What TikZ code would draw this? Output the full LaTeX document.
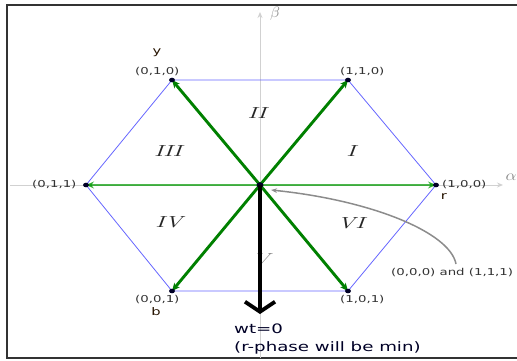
\documentclass[tikz,border=0pt]{standalone}
\usepackage{fontspec}
\usepackage{graphicx}
\usepackage{tikz}
\usetikzlibrary{arrows.meta,positioning,calc}
\newfontfamily\lblfont{DejaVu Sans}[FakeStretch=1.4]
\newfontfamily\numfont{lmroman10-italic}[Extension=.otf,FakeStretch=1.5]

\begin{document}
\begin{tikzpicture}[x=1pt, y=-1pt, >=Stealth]
        % Style definitions
        \tikzset{
            corner/.style={coordinate},
            dot/.style={fill=black!85!blue, draw=none},
            edge/.style={draw=blue!60, line width=0.8pt},
            vec/.style={->, draw=green!50!black, line width=2.9pt, >={Stealth[length=8pt, width=7pt]}},
            vecflat/.style={vec, draw=green!60!black, opacity=0.7},
            axis/.style={->, draw=black!18, line width=1pt, >={Stealth[length=6pt, width=5pt]}},
            greek/.style={text=black!45, inner sep=0pt},
            lbl/.style={font=\lblfont\fontsize{9.5}{11}\selectfont, text=black!80, inner sep=0pt},
            phase/.style={font=\lblfont\fontsize{10.5}{12}\selectfont, text=black!85!orange, inner sep=0pt},
            sector/.style={font=\numfont\fontsize{16}{18}\selectfont, text=black!85, inner sep=0pt},
            note/.style={font=\lblfont\fontsize{13}{15}\selectfont, text=black!85!blue, inner sep=0pt, anchor=west},
            minvec/.style={line width=3.8pt, -{Straight Barb[length=10pt, width=30pt]}}
        }
        \useasboundingbox (0,0) rectangle (517,360);

        % Frame
        \draw [line width=1.2pt, black!80] (517,5) -- (7,5) -- (7,358) -- (517,358);

        % Corners of the hexagon
        \coordinate [corner] (O) at (260,185);
        \coordinate [corner] (r100) at (436,185);
        \coordinate [corner] (r110) at (348,80);
        \coordinate [corner] (r010) at (172,80);
        \coordinate [corner] (r011) at (86,185);
        \coordinate [corner] (r001) at (172,291);
        \coordinate [corner] (r101) at (348,291);

        % Axes
        \coordinate (alphaL) at (10,185);
        \coordinate (alphaR) at (503,185);
        \coordinate (betaB) at (260,358);
        \coordinate (betaT) at (260,12);
        \draw [axis] (alphaL) -- (alphaR);
        \draw [axis] (betaB) -- (betaT);
        \node [greek] (alpha) at (511,177) {\scalebox{1.7}[1.5]{$\alpha$}};
        \node [greek] (beta) at (275,14) {\scalebox{1.6}[1.5]{$\beta$}};

        % Hexagon
        \draw [edge] (r100) -- (r110) -- (r010) -- (r011) -- (r001) -- (r101) -- cycle;

        % Sectors
        \node [sector] (s1) at (351,151) {I};
        \node [sector] (s2) at (257,113) {II};
        \node [sector] (s3) at (168,151) {III};
        \node [sector] (s4) at (169,222) {IV};
        \node [sector, text=black!50] (s5) at (261,259) {V};
        \node [sector] (s6) at (351,223) {VI};

        % Vectors
        \draw [vecflat] (O) -- (r100);
        \draw [vecflat] (O) -- (r011);
        \foreach \v in {r110, r010, r001, r101}
            \draw [vec] (O) -- (\v);
        \foreach \v in {r100, r110, r010, r011, r001, r101}
            \fill [dot] (\v) ellipse (3pt and 2.3pt);
        \fill [dot] (O) ellipse (3.5pt and 2.8pt);

        % Vertex labels
        \node [lbl, anchor=west] (l100) at (442,185) {(1,0,0)};
        \node [phase] (pr) at (444,197) {r};
        \node [lbl, anchor=west] (l110) at (340,72) {(1,1,0)};
        \node [lbl, anchor=west] (l010) at (135,72) {(0,1,0)};
        \node [phase] (py) at (157,53) {y};
        \node [lbl, anchor=west] (l011) at (32,185) {(0,1,1)};
        \node [lbl, anchor=west] (l001) at (135,300) {(0,0,1)};
        \node [phase] (pb) at (156,312) {b};
        \node [lbl, anchor=west] (l101) at (340,300) {(1,0,1)};
        \node [lbl, anchor=west] (lnull) at (391,273) {(0,0,0) and (1,1,1)};

        % Pointer to the origin
        \draw [->, black!45, line width=1.5pt, >={Stealth[length=6pt, width=4.5pt]}]
            (456,264) .. controls (450,232) and (370,200) .. (271,190);

        % wt = 0
        \coordinate (wtend) at (260,314);
        \draw [minvec] (O) -- (wtend);
        \node [note] (wt) at (234,329) {wt=0};
        \node [note] (rmin) at (234,348) {(r-phase will be min)};
\end{tikzpicture}
\end{document}
